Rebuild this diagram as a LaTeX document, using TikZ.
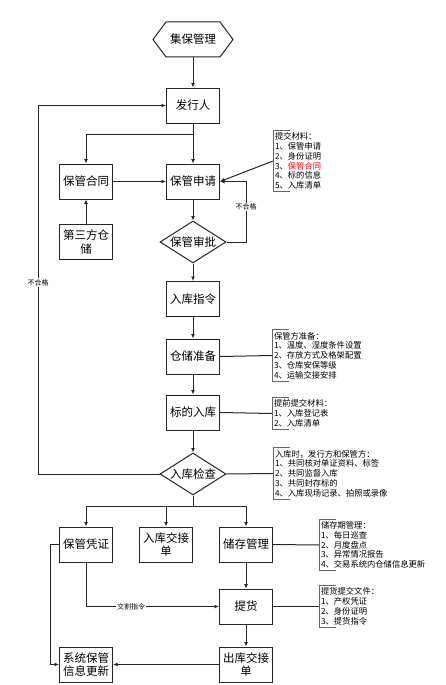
\documentclass[tikz,border=0pt]{standalone}
\usepackage{fontspec}
\setmainfont{Noto Sans CJK SC}
\usetikzlibrary{shapes.geometric,arrows.meta}

\begin{document}
\begin{tikzpicture}[x=1pt, y=-1pt, line width=1pt, draw=black!85, >={Latex[length=4.5pt,width=4pt]},
    box/.style={draw, minimum width=53pt, minimum height=35pt, align=center, inner sep=1pt, font=\fontsize{11.5}{13.5}\selectfont},
    decision/.style={draw, diamond, aspect=1.6, inner sep=0pt, minimum width=66pt, minimum height=42pt, font=\fontsize{11.5}{13.5}\selectfont},
    note/.style={anchor=west, align=left, inner xsep=1.5pt, inner ysep=2pt, font=\fontsize{8.3}{9.8}\selectfont},
    lbl/.style={fill=white, inner sep=1pt, font=\fontsize{7}{8}\selectfont}]
\fill[white] (0,0) rectangle (446,685);
\useasboundingbox (0,0) rectangle (446,685);

\draw (153,39.5) -- (166,22) -- (220,22) -- (233,39.5) -- (220,57) -- (166,57) -- cycle;
\node (start) at (193,39.5) [minimum width=80pt, minimum height=35pt, inner sep=0pt, font=\fontsize{11.5}{13.5}\selectfont] {集保管理};
\node (issuer) at (193,105.5) [box] {发行人};
\node (contract) at (86,181.5) [box] {保管合同};
\node (apply) at (193,181.5) [box] {保管申请};
\node (third) at (86,242) [box] {第三方仓\\储};
\node (review) at (193,242) [decision] {保管审批};
\node (order) at (193,299) [box] {入库指令};
\node (prep) at (193,356.5) [box] {仓储准备};
\node (inbound) at (193,412.5) [box] {标的入库};
\node (check) at (193,474) [decision] {入库检查};
\node (voucher) at (86,544.5) [box] {保管凭证};
\node (inhand) at (166,544.5) [box] {入库交接\\单};
\node (storage) at (246,544.5) [box] {储存管理};
\node (pickup) at (246,606.5) [box] {提货};
\node (outhand) at (246,664.5) [box] {出库交接\\单};
\node (sysupd) at (86,664.5) [box] {系统保管\\信息更新};

\node (n1) at (273,161) [note] {提交材料：\\1、保管申请\\2、身份证明\\3、\textcolor{red}{保管合同}\\4、标的信息\\5、入库清单};
\node (n2) at (272,355.5) [note] {保管方准备：\\1、温度、湿度条件设置\\2、存放方式及格架配置\\3、仓库安保等级\\4、运输交接安排};
\node (n3) at (272,413.5) [note] {提前提交材料：\\1、入库登记表\\2、入库清单};
\node (n4) at (273,473.5) [note] {入库时，发行方和保管方：\\1、共同核对单证资料、标签\\2、共同监督入库\\3、共同封存标的\\4、入库现场记录、拍照或录像};
\node (n5) at (319,545) [note] {储存期管理：\\1、每日巡查\\2、月度盘点\\3、异常情况报告\\4、交易系统内仓储信息更新};
\node (n6) at (319,606.5) [note] {提货提交文件：\\1、产权凭证\\2、身份证明\\3、提货指令};
\foreach \n in {n1,n2,n3,n4,n5,n6}
    \draw[black!60] ([xshift=17pt]\n.north west) -- (\n.north west) -- (\n.south west) -- ([xshift=17pt]\n.south west);

\coordinate (split1) at (193,134);
\coordinate (rj) at (246,181.5);
\coordinate (lj) at (38,474);
\coordinate (split2) at (193,506);
\coordinate (vj) at (50,544.5);

\draw[->] (start) -- (issuer);
\draw[->] (issuer) -- (apply);
\draw[->] (split1) -| (contract);
\draw[->] (contract) -- (apply);
\draw[->] (third) -- (contract);
\draw[->] (n1.west) -- (apply.east);
\draw[->] (apply) -- (review);
\draw[->] (review.east) -| node[lbl, pos=0.79] {不合格} (rj) -- (apply.east);
\draw[->] (review) -- (order);
\draw[->] (order) -- (prep);
\draw[->] (prep) -- (inbound);
\draw[->] (inbound) -- (check);
\draw[->] (check.west) -- (lj) |- node[lbl, pos=0.26] {不合格} (issuer.west);
\draw (prep.east) -- (n2.west);
\draw (inbound.east) -- (n3.west);
\draw (check.east) -- (n4.west);
\draw (check.south) -- (split2);
\draw[->] (split2) -| (voucher);
\draw[->] (split2) -| (inhand);
\draw[->] (split2) -| (storage);
\draw (storage.east) -- (n5.west);
\draw[->] (storage) -- (pickup);
\draw (pickup.east) -- (n6.west);
\draw[->] (voucher.south) |- node[lbl, pos=0.67] {交割指令} (pickup.west);
\draw[->] (pickup) -- (outhand);
\draw[->] (outhand) -- (sysupd);
\draw[->] (voucher.west) -- (vj) |- (sysupd.west);
\end{tikzpicture}
\end{document}
